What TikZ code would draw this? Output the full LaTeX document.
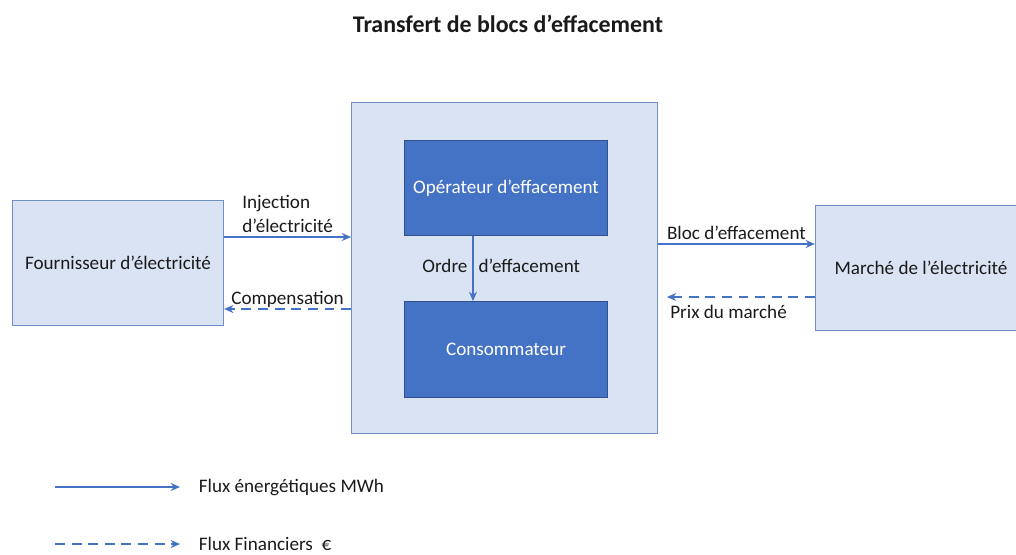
\documentclass[tikz,border=0pt]{standalone}
\usepackage{fontspec}
\setmainfont{Carlito}
\usepackage{xcolor}
\usepackage{tikz}
\usetikzlibrary{arrows.meta, positioning}
\definecolor{bleu}{HTML}{4472C4}
\definecolor{bleuclair}{HTML}{DAE3F3}
\definecolor{bordclair}{HTML}{6F8FC8}
\definecolor{bordfonce}{HTML}{2F528F}
\definecolor{texte}{HTML}{1A1A1A}
\tikzstyle{flux} = [draw=bleu, line width=1.7pt, -{Stealth[length=7pt, width=6pt]}]
\tikzstyle{fluxfin} = [flux, dash pattern=on 7.5pt off 5pt]
\tikzstyle{acteur} = [rectangle, draw=bordclair, line width=0.75pt, fill=bleuclair, minimum width=159pt, minimum height=94.5pt]
\tikzstyle{role} = [rectangle, draw=bordfonce, line width=0.75pt, fill=bleu, text=white, minimum width=153pt, minimum height=72pt]
\tikzstyle{legende} = [inner sep=1pt]
\tikzset{every node/.style={align=center, text=texte, font=\fontsize{14.4pt}{18pt}\selectfont}}

\begin{document}
\begin{tikzpicture}[x=0.02646cm, y=-0.02646cm]
    \useasboundingbox (0,0) rectangle (1016,554);
    \node (titre) [font=\bfseries\fontsize{18pt}{21pt}\selectfont] at (508,24) {Transfert de blocs d’effacement};

    \node (fourn)  [acteur] at (118,263) {Fournisseur d’électricité};
    \node (cadre)  [acteur, minimum width=230.25pt, minimum height=249pt] at (504.5,268) {};
    \node (oper)   [role] at (506,188) {Opérateur d’effacement};
    \node (conso)  [role, below=48.75pt of oper] {Consommateur};
    \node (marche) [acteur] at (921,268) {Marché de l’électricité};

    \draw [flux] (fourn.east |- 0,237) -- node[above, align=left, yshift=-1pt]{Injection\\d’électricité} (cadre.west |- 0,237);
    \draw [fluxfin] (cadre.west |- 0,309) -- node[above, yshift=-3pt]{Compensation} (fourn.east |- 0,309);
    \draw [flux] (cadre.east |- 0,244) -- node[above, yshift=-1pt]{Bloc d’effacement} (marche.west |- 0,244);
    \draw [fluxfin, shorten >=6.75pt] (marche.west |- 0,297) -- node[below, pos=0.55, yshift=-2pt]{Prix du marché} (cadre.east |- 0,297);
    \draw [flux] (oper.south -| 473,0) -- node[left, yshift=2pt]{Ordre} node[right, yshift=2pt]{d’effacement} (conso.north -| 473,0);

    % legende
    \coordinate (debE) at (55,487);
    \coordinate (finE) at (180,487);
    \coordinate (debF) at (55,544);
    \coordinate (finF) at (180,544);
    \node (lgE) [legende, right=13pt of finE] {Flux énergétiques MWh};
    \node (lgF) [legende, right=13pt of finF] {Flux Financiers~~€};
    \draw [flux] (debE) -- (finE);
    \draw [fluxfin] (debF) -- (finF);
\end{tikzpicture}
\end{document}
